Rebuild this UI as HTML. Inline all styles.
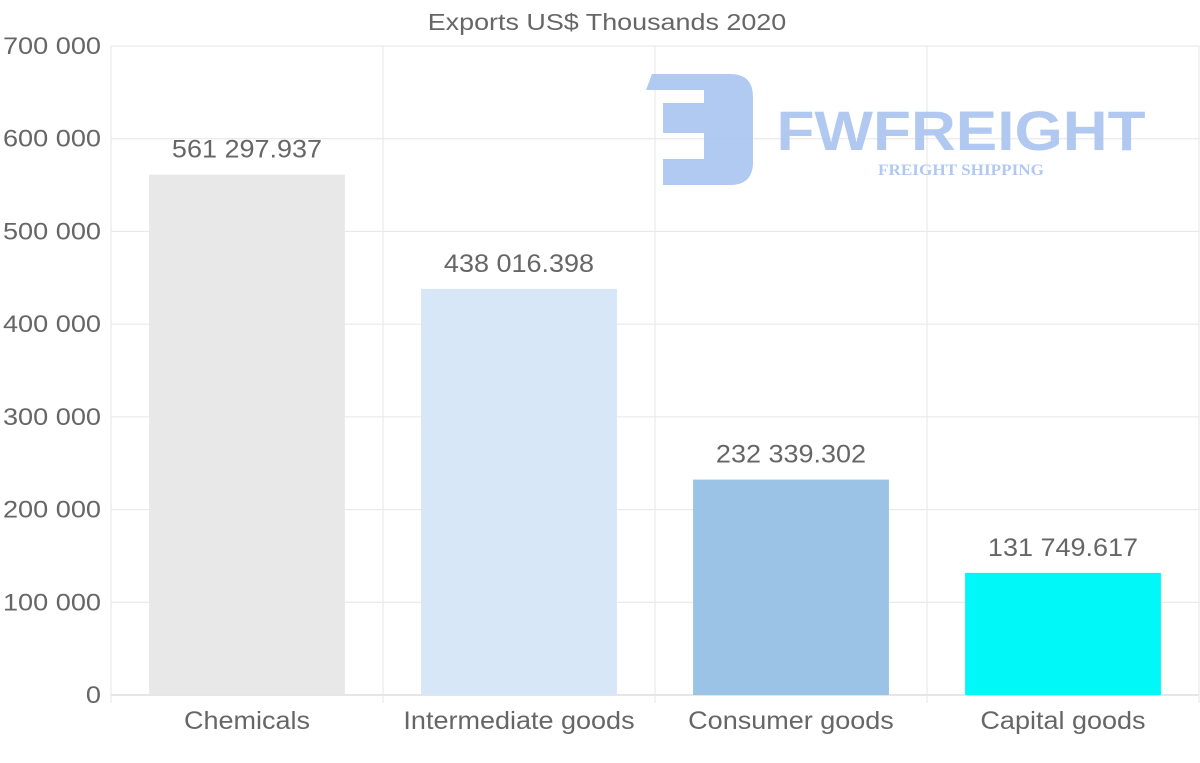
<!DOCTYPE html>
<html><head><meta charset="utf-8"><style>
html,body{margin:0;padding:0;background:#fff;}
svg{display:block;font-family:"Liberation Sans",sans-serif;}
</style></head><body>
<svg id="chart" width="1200" height="763">
<text id="title" x="607" y="30" text-anchor="middle" font-size="23" fill="#666">Exports US$ Thousands 2020</text>
<g id="grid"></g>
<g opacity="0.9">
<path d="M652 74 H730 Q753 74 753 97 V162 Q753 185 730 185 H663 V159 H704 V133 H663 V103 H704 V90 H646 Z" fill="#a9c4f0"/>
<text x="961" y="150" text-anchor="middle" font-size="56" font-weight="bold" fill="#a9c4f0" textLength="369" lengthAdjust="spacingAndGlyphs">FWFREIGHT</text>
<text x="961" y="175" text-anchor="middle" font-size="16" font-weight="bold" font-family="Liberation Serif,serif" fill="#a9c4f0" textLength="166" lengthAdjust="spacingAndGlyphs">FREIGHT SHIPPING</text>
</g>
<g id="bars"></g>
</svg>
<script>
const categories=["Chemicals","Intermediate goods","Consumer goods","Capital goods"];
const values=[561297.937,438016.398,232339.302,131749.617];
const valueLabels=["561 297.937","438 016.398","232 339.302","131 749.617"];
const colors=["#e8e8e8","#d7e7f8","#9bc3e6","#00f8f8"];
const yTicks=[0,100000,200000,300000,400000,500000,600000,700000];
const yTickLabels=["0","100 000","200 000","300 000","400 000","500 000","600 000","700 000"];
const NS="http://www.w3.org/2000/svg";
const L=111,R=1199,T=46,B=695,yMax=700000;
const y=v=>B-(v/yMax)*(B-T);
const band=(R-L)/categories.length;
const xc=i=>L+band*(i+0.5);
function mk(t,a,p){const e=document.createElementNS(NS,t);for(const k in a)e.setAttribute(k,a[k]);p.appendChild(e);return e;}
function stretch(t,f){const w=t.getComputedTextLength();t.setAttribute('textLength',w*f);t.setAttribute('lengthAdjust','spacingAndGlyphs');}
const g=document.getElementById('grid'),bg=document.getElementById('bars');
stretch(document.getElementById('title'),1.17);
yTicks.forEach((v,i)=>{
 const l=mk('line',{x1:L,x2:R,y1:y(v),y2:y(v),stroke:i==0?'#ccc':'#e6e6e6'},g);
 
 
 const t=mk('text',{x:101,y:y(v)+8,'text-anchor':'end','font-size':24,fill:'#666'},g);
 t.textContent=yTickLabels[i];
 
 
 stretch(t,1.13);
});
for(let i=0;i<=categories.length;i++){
 const x=L+band*i;
 const l=mk('line',{x1:x,x2:x,y1:T,y2:B+8,stroke:'#e6e6e6'},g);
 
 
}
categories.forEach((c,i)=>{
 const w=band*0.72;
 const r=mk('rect',{x:xc(i)-w/2,y:y(values[i]),width:w,height:B-y(values[i]),fill:colors[i]},bg);
 
 
 const t=mk('text',{x:xc(i),y:y(values[i])-17,'text-anchor':'middle','font-size':25,fill:'#666'},bg);
 t.textContent=valueLabels[i];
 
 
 stretch(t,1.08);
 const xl=mk('text',{x:xc(i),y:729,'text-anchor':'middle','font-size':25,fill:'#666'},bg);
 xl.textContent=c;
 
 
 stretch(xl,1.08);
});
</script>
</body></html>
